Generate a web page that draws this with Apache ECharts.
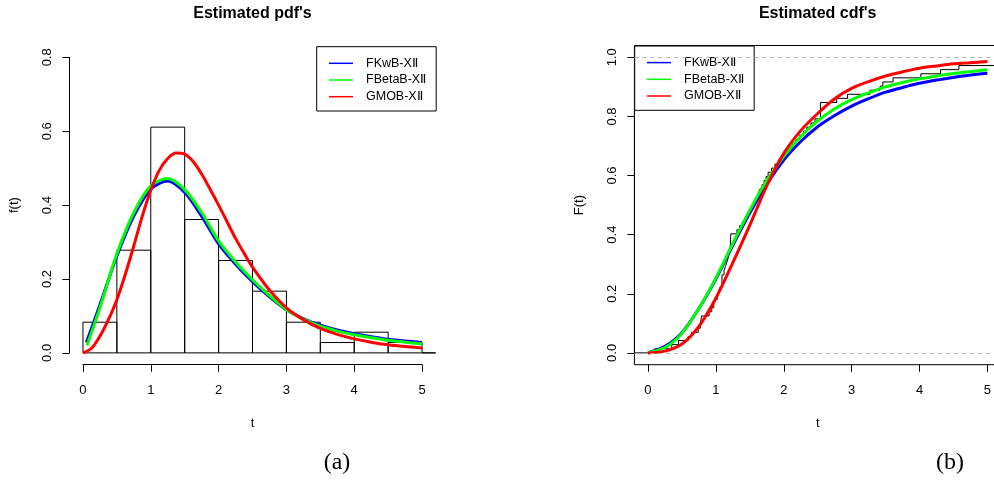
<!DOCTYPE html>
<html><head><meta charset="utf-8">
<script src="https://cdn.jsdelivr.net/npm/echarts@6/dist/echarts.min.js"></script>
<style>html,body{margin:0;padding:0;background:#fff}#c{width:994px;height:486px}</style>
</head><body><div id="c"></div>
<script>
// ---------- data ----------
const seriesNames = ['FKwB-XⅡ', 'FBetaB-XⅡ', 'GMOB-XⅡ'];
const seriesColors = ['#0000ff', '#00ff00', '#ff0000'];

// histogram (density) : bin edges and heights
const histEdges = [0, 0.5, 1, 1.5, 2, 2.5, 3, 3.5, 4, 4.5, 5, 5.5];
const histDensity = [0.083, 0.278, 0.611, 0.361, 0.25, 0.167, 0.083, 0.028, 0.056, 0.028, 0];

// estimated pdf curves
const pdfBlueT  = [0.05, 0.25, 0.5, 0.75, 1.0, 1.25, 1.5, 1.75, 2.0, 2.25, 2.5, 2.75, 3.0, 3.25, 3.5, 3.75, 4.0, 4.25, 4.5, 4.75, 5.0];
const pdfBlueF  = [0.028, 0.13, 0.262, 0.37, 0.443, 0.465, 0.434, 0.37, 0.295, 0.24, 0.193, 0.152, 0.117, 0.093, 0.075, 0.062, 0.052, 0.044, 0.037, 0.032, 0.028];
const pdfGreenT = [0.06, 0.25, 0.5, 0.75, 1.0, 1.25, 1.5, 1.75, 2.0, 2.25, 2.5, 2.75, 3.0, 3.25, 3.5, 3.75, 4.0, 4.25, 4.5, 4.75, 5.0];
const pdfGreenF = [0.02, 0.122, 0.268, 0.38, 0.452, 0.472, 0.442, 0.38, 0.303, 0.246, 0.198, 0.155, 0.117, 0.092, 0.072, 0.059, 0.049, 0.041, 0.034, 0.029, 0.024];
const pdfRedT   = [0, 0.125, 0.25, 0.375, 0.5, 0.625, 0.75, 0.875, 1.0, 1.125, 1.25, 1.375, 1.5, 1.625, 1.75, 1.875, 2.0, 2.125, 2.25, 2.375, 2.5, 2.75, 3.0, 3.25, 3.5, 3.75, 4.0, 4.25, 4.5, 4.75, 5.0];
const pdfRedF   = [0, 0.012, 0.045, 0.09, 0.144, 0.213, 0.29, 0.37, 0.44, 0.494, 0.526, 0.541, 0.538, 0.518, 0.484, 0.443, 0.4, 0.355, 0.31, 0.27, 0.232, 0.17, 0.122, 0.09, 0.066, 0.05, 0.038, 0.029, 0.022, 0.017, 0.013];

// empirical cdf: jump points and levels
const ecdfT = [0.10,0.35,0.45,0.59,0.64,0.74,0.77,0.79,0.90,0.94,0.97,0.99,1.02,1.04,1.06,1.09,1.12,1.14,1.16,1.18,1.19,1.21,1.22,1.31,1.35,1.39,1.43,1.46,1.50,1.53,1.56,1.60,1.63,1.65,1.68,1.71,1.74,1.77,1.82,1.87,1.92,1.97,2.03,2.08,2.13,2.18,2.23,2.29,2.34,2.40,2.46,2.54,2.78,2.94,3.27,3.42,3.46,3.61,4.02,4.31,4.58,5.6,6.5];
const ecdfF = [0.0139,0.0278,0.0417,0.0556,0.0694,0.0833,0.0972,0.125,0.1389,0.1528,0.1667,0.1806,0.1944,0.2083,0.2222,0.2639,0.2778,0.2917,0.3056,0.3194,0.3333,0.3472,0.4028,0.4167,0.4306,0.4444,0.4583,0.4722,0.4861,0.5,0.5139,0.5278,0.5417,0.5556,0.5694,0.5833,0.5972,0.6111,0.625,0.6389,0.6528,0.6667,0.6806,0.6944,0.7083,0.7222,0.7361,0.75,0.7639,0.7778,0.7917,0.8472,0.8611,0.875,0.8889,0.9028,0.9167,0.9306,0.9444,0.9583,0.9722,0.9861,1.0];

// estimated cdf curves
const cdfT      = [0, 0.25, 0.5, 0.75, 1.0, 1.25, 1.5, 1.75, 2.0, 2.25, 2.5, 2.75, 3.0, 3.25, 3.5, 3.75, 4.0, 4.25, 4.5, 4.75, 5.0];
const cdfBlue   = [0, 0.022, 0.068, 0.15, 0.25, 0.364, 0.473, 0.57, 0.652, 0.715, 0.765, 0.803, 0.835, 0.86, 0.882, 0.898, 0.912, 0.923, 0.932, 0.94, 0.946];
const cdfGreen  = [0, 0.018, 0.066, 0.15, 0.253, 0.37, 0.483, 0.583, 0.665, 0.732, 0.785, 0.826, 0.857, 0.88, 0.9, 0.915, 0.927, 0.937, 0.945, 0.952, 0.958];
const cdfRed    = [0, 0.006, 0.03, 0.09, 0.185, 0.305, 0.432, 0.565, 0.675, 0.752, 0.81, 0.86, 0.895, 0.918, 0.937, 0.951, 0.963, 0.971, 0.978, 0.982, 0.986];

// ticks
const xTickRange = [0, 5, 1];
const pdfYTicks = [0, 0.8, 0.2];
const cdfYTicks = [0, 1.0, 0.2];

// ---------- layout ----------
const FONT = "'Liberation Sans', Arial, sans-serif";
const PLOT_TOP = 45.5, PLOT_H = 319.2;
const XLIM = [-0.2, 5.2];
const YLIM_PDF = [-0.032, 0.832];
const YLIM_CDF = [-0.04, 1.04];
const leftPlot = { x: 69.4, w: 366.2 };
const rightPlot = { x: 634.4, w: 366.6 };

function zip(a, b) { return a.map((v, i) => [v, b[i]]); }

function axisGridFor(plot, ylim, yt) {
  const xs = plot.w / (XLIM[1] - XLIM[0]);
  const ys = PLOT_H / (ylim[1] - ylim[0]);
  const left = plot.x + (xTickRange[0] - XLIM[0]) * xs;
  const width = (xTickRange[1] - xTickRange[0]) * xs;
  const top = PLOT_TOP + (ylim[1] - yt[1]) * ys;
  const height = (yt[1] - yt[0]) * ys;
  return { left, top, width, height,
    xOffset: (PLOT_TOP + PLOT_H) - (top + height),
    yOffset: left - plot.x };
}
const ag1 = axisGridFor(leftPlot, YLIM_PDF, pdfYTicks);
const ag3 = axisGridFor(rightPlot, YLIM_CDF, cdfYTicks);

const chart = echarts.init(document.getElementById('c'), null, { renderer: 'canvas' });

const tickLabel = { fontSize: 13, color: '#000', fontFamily: FONT };
function xAxisVisible(gi, off, showLine) {
  return {
    gridIndex: gi, type: 'value', min: xTickRange[0], max: xTickRange[1], interval: xTickRange[2],
    position: 'bottom', offset: off,
    axisLine: { show: showLine, onZero: false, lineStyle: { color: '#000', width: 1 } },
    axisTick: { show: true, length: 7, lineStyle: { color: '#000', width: 1 } },
    axisLabel: Object.assign({ margin: 19 }, tickLabel),
    splitLine: { show: false },
    name: 't', nameLocation: 'middle', nameGap: 52,
    nameTextStyle: { fontSize: 13, color: '#000', fontFamily: FONT }
  };
}
function yAxisVisible(gi, off, yt, name) {
  return {
    gridIndex: gi, type: 'value', min: yt[0], max: yt[1], interval: yt[2],
    position: 'left', offset: off,
    axisLine: { show: true, onZero: false, lineStyle: { color: '#000', width: 1 } },
    axisTick: { show: true, length: 7, lineStyle: { color: '#000', width: 1 } },
    axisLabel: Object.assign({ margin: 15, rotate: 90, formatter: v => v.toFixed(1) }, tickLabel),
    splitLine: { show: false },
    name: name, nameLocation: 'middle', nameGap: 48, nameRotate: 90,
    nameTextStyle: { fontSize: 13, color: '#000', fontFamily: FONT }
  };
}

function legendAt(left, top) {
  return {
    orient: 'vertical', left: left, top: top,
    data: seriesNames, selectedMode: false,
    icon: 'rect', itemWidth: 24, itemHeight: 1.5, itemGap: 2.7,
    borderColor: '#000', borderWidth: 1, borderRadius: 0,
    padding: [9.6, 10, 7.3, 12.3],
    backgroundColor: '#fff',
    textStyle: { fontSize: 12.5, color: '#000', fontFamily: FONT, lineHeight: 14, padding: [0, 0, 0, 8] }
  };
}

function curve(name, color, data, xi, yi) {
  return {
    type: 'line', name: name, xAxisIndex: xi, yAxisIndex: yi, data: data,
    smooth: 0.3, showSymbol: false, symbol: 'none', clip: true,
    lineStyle: { color: color, width: 3 }, itemStyle: { color: color },
    silent: true, animation: false
  };
}

const histData = histDensity.map((h, i) => [histEdges[i], histEdges[i + 1], h]);
const ecdfData = [[XLIM[0], 0]].concat(zip(ecdfT, ecdfF));

const option = {
  animation: false,
  backgroundColor: '#fff',
  title: [
    { text: "Estimated pdf's", left: leftPlot.x + leftPlot.w / 2, textAlign: 'center', top: 6, padding: 0,
      textStyle: { fontSize: 16, fontWeight: 'bold', color: '#000', fontFamily: FONT } },
    { text: "Estimated cdf's", left: rightPlot.x + rightPlot.w / 2, textAlign: 'center', top: 6, padding: 0,
      textStyle: { fontSize: 16, fontWeight: 'bold', color: '#000', fontFamily: FONT } },
    { text: '(a)', left: 337, textAlign: 'center', top: 451, padding: 0,
      textStyle: { fontSize: 24, fontWeight: 'normal', color: '#000', fontFamily: "'Liberation Serif', 'Times New Roman', serif" } },
    { text: '(b)', left: 950, textAlign: 'center', top: 451, padding: 0,
      textStyle: { fontSize: 24, fontWeight: 'normal', color: '#000', fontFamily: "'Liberation Serif', 'Times New Roman', serif" } }
  ],
  legend: [ legendAt(316.7, 46.7), legendAt(634.7, 46) ],
  grid: [
    { left: leftPlot.x, top: PLOT_TOP, width: leftPlot.w, height: PLOT_H, containLabel: false, outerBoundsMode: 'none' },
    { left: ag1.left, top: ag1.top, width: ag1.width, height: ag1.height, containLabel: false, outerBoundsMode: 'none' },
    { left: rightPlot.x, top: PLOT_TOP, width: rightPlot.w, height: PLOT_H, containLabel: false, outerBoundsMode: 'none',
      show: true, borderColor: '#000', borderWidth: 1, backgroundColor: 'transparent' },
    { left: ag3.left, top: ag3.top, width: ag3.width, height: ag3.height, containLabel: false, outerBoundsMode: 'none' }
  ],
  xAxis: [
    { gridIndex: 0, type: 'value', min: XLIM[0], max: XLIM[1], show: false },
    xAxisVisible(1, ag1.xOffset, true),
    { gridIndex: 2, type: 'value', min: XLIM[0], max: XLIM[1], show: false },
    xAxisVisible(3, ag3.xOffset, false)
  ],
  yAxis: [
    { gridIndex: 0, type: 'value', min: YLIM_PDF[0], max: YLIM_PDF[1], show: false },
    yAxisVisible(1, ag1.yOffset, pdfYTicks, 'f(t)'),
    { gridIndex: 2, type: 'value', min: YLIM_CDF[0], max: YLIM_CDF[1], show: false },
    yAxisVisible(3, ag3.yOffset, cdfYTicks, 'F(t)')
  ],
  series: [
    {
      type: 'custom', name: 'hist', xAxisIndex: 0, yAxisIndex: 0, data: histData,
      encode: { x: [0, 1], y: 2 }, silent: true, clip: true,
      renderItem: function (params, api) {
        const p0 = api.coord([api.value(0), 0]);
        const p1 = api.coord([api.value(1), api.value(2)]);
        const rect = { x: p0[0], y: p1[1], width: p1[0] - p0[0], height: p0[1] - p1[1] };
        const cs = params.coordSys;
        const c = echarts.graphic.clipRectByRect(rect, { x: cs.x, y: cs.y, width: cs.width, height: cs.height });
        if (!c) return;
        return { type: 'rect', shape: c, style: { fill: 'none', stroke: '#000', lineWidth: 1 } };
      }
    },
    curve(seriesNames[0], seriesColors[0], zip(pdfBlueT, pdfBlueF), 0, 0),
    curve(seriesNames[1], seriesColors[1], zip(pdfGreenT, pdfGreenF), 0, 0),
    curve(seriesNames[2], seriesColors[2], zip(pdfRedT, pdfRedF), 0, 0),
    {
      type: 'line', name: 'ecdf', xAxisIndex: 2, yAxisIndex: 2, data: ecdfData, step: 'end',
      showSymbol: false, symbol: 'none', clip: true, silent: true,
      lineStyle: { color: '#000', width: 1 },
      markLine: {
        silent: true, symbol: ['none', 'none'], label: { show: false },
        lineStyle: { color: '#b3b3b3', type: [4, 4], width: 1 },
        data: [{ yAxis: 0 }, { yAxis: 1 }]
      }
    },
    curve(seriesNames[0], seriesColors[0], zip(cdfT, cdfBlue), 2, 2),
    curve(seriesNames[1], seriesColors[1], zip(cdfT, cdfGreen), 2, 2),
    curve(seriesNames[2], seriesColors[2], zip(cdfT, cdfRed), 2, 2)
  ]
};
chart.setOption(option);
</script>
</body></html>
